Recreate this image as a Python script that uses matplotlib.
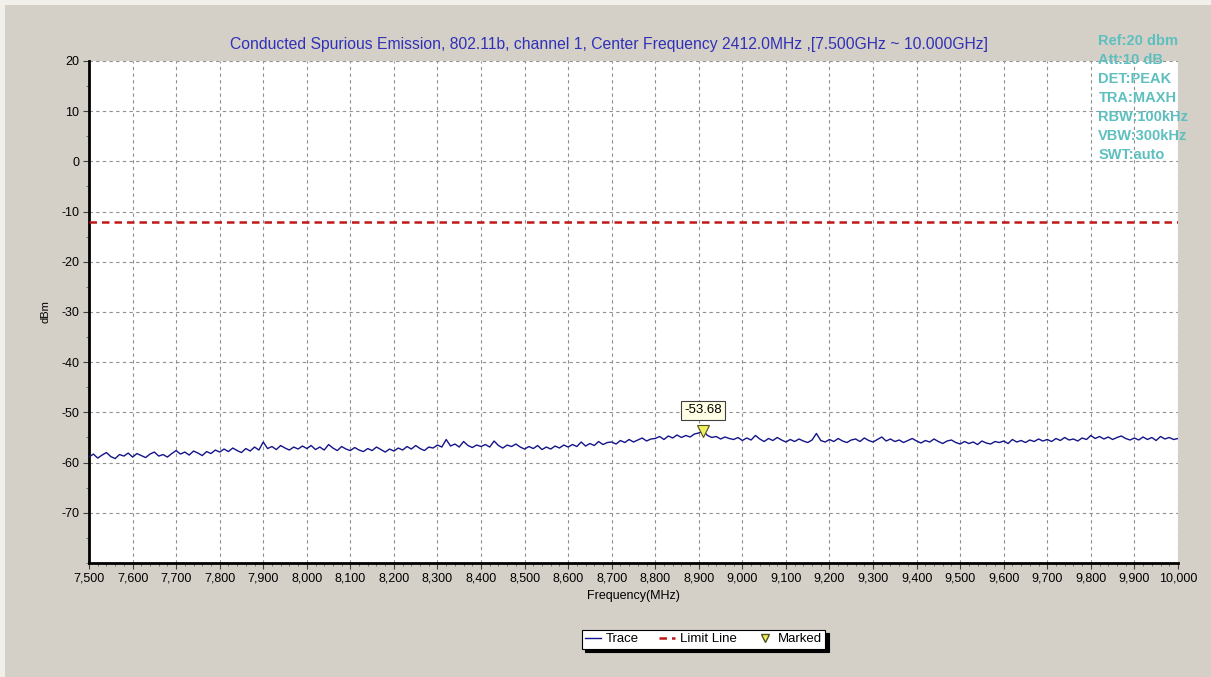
import matplotlib
matplotlib.use('Agg')
import matplotlib.pyplot as plt
import numpy as np
from matplotlib.patches import Rectangle
from matplotlib.lines import Line2D

plt.rcParams['font.family'] = ['Liberation Sans', 'DejaVu Sans']
plt.rcParams['axes.unicode_minus'] = False

# trace, one reading every 10 MHz from 7500 to 10000 MHz
freq_start = 7500
freq_step = 10
trace_dbm = [
    -58.9, -58.3, -59.1, -58.5, -58.0, -58.8, -59.2, -58.4, -58.7, -58.1,
    -58.9, -58.2, -58.6, -59.0, -58.3, -57.9, -58.7, -58.4, -58.9, -58.2,
    -57.6, -58.3, -57.9, -58.5, -57.7, -58.1, -58.6, -57.8, -58.2, -57.5,
    -57.9, -57.3, -57.8, -57.1, -57.6, -58.0, -57.2, -57.7, -56.9, -57.5,
    -55.9, -57.2, -56.8, -57.4, -56.6, -57.1, -57.5, -56.9, -57.3, -56.7,
    -57.2, -56.6, -57.4, -56.9, -57.5, -56.4, -57.1, -57.6, -56.8, -57.3,
    -57.6, -57.0, -57.5, -57.8, -57.2, -57.6, -56.9, -57.4, -57.9, -57.3,
    -57.7, -57.1, -57.5, -56.8, -57.3, -56.6, -57.2, -57.6, -56.9, -57.1,
    -56.5, -56.9, -55.4, -56.7, -56.3, -56.9, -55.8, -56.6, -57.0, -56.5,
    -56.8, -56.4, -56.9, -55.7, -56.6, -57.1, -56.5, -56.8, -56.3, -56.9,
    -57.3, -56.8, -57.2, -56.6, -57.4, -56.9, -57.3, -56.7, -57.1, -56.5,
    -56.9, -56.4, -56.8, -55.9, -56.7, -56.2, -56.6, -55.8, -56.4, -56.0,
    -55.9, -56.3, -55.6, -56.0, -55.4, -55.9, -55.5, -55.1, -55.7, -55.3,
    -55.2, -54.8, -55.4, -54.7, -55.1, -54.5, -55.0, -54.6, -54.9, -54.3,
    -54.1, -53.7, -54.6, -55.0, -54.8, -55.3, -54.9, -55.2, -55.4, -55.0,
    -55.6, -55.1, -55.5, -54.6, -55.3, -55.8, -55.2, -55.6, -55.0, -55.5,
    -55.9, -55.4, -55.8, -55.3, -55.7, -56.0, -55.5, -54.2, -55.6, -55.9,
    -55.4, -55.8, -55.2, -55.7, -56.0, -55.5, -55.3, -55.8, -55.1, -55.6,
    -55.9, -55.4, -54.9, -55.7, -55.3, -55.8, -55.5, -56.0, -55.6, -55.2,
    -55.7, -56.1, -55.6, -55.9, -55.3, -55.8, -56.2, -55.7, -55.5, -56.0,
    -56.3, -55.8, -56.2, -55.9, -56.4, -55.7, -56.1, -56.3, -55.8, -56.0,
    -55.7, -56.2, -55.4, -55.9, -55.6, -56.0, -55.5, -55.8, -55.3, -55.7,
    -55.4, -55.8, -55.2, -55.6, -55.0, -55.5, -55.3, -55.7, -55.1, -55.4,
    -54.6, -55.2, -54.8, -55.3, -54.9, -55.4, -55.0, -54.7, -55.2, -55.5,
    -55.1, -55.5, -54.9, -55.4, -55.0, -55.6, -54.8, -55.3, -55.0, -55.4,
    -55.2,
]
limit_dbm = -12.0
marker_freq = 8910
marker_dbm = -53.68
marker_label = '-53.68'

x_ticks = list(range(7500, 10001, 100))
y_ticks = [20, 10, 0, -10, -20, -30, -40, -50, -60, -70]
title = ('Conducted Spurious Emission, 802.11b, channel 1, '
         'Center Frequency 2412.0MHz ,[7.500GHz ~ 10.000GHz]')
info_lines = ['Ref:20 dbm', 'Att:10 dB', 'DET:PEAK', 'TRA:MAXH',
              'RBW:100kHz', 'VBW:300kHz', 'SWT:auto']

freqs = freq_start + freq_step*np.arange(len(trace_dbm))

bg = '#d4d0c8'
fig = plt.figure(figsize=(12.11, 6.77), dpi=100, facecolor=bg)
# light window bevel at top/left
fig.patches.append(Rectangle((0, 0.992), 1, 0.008, transform=fig.transFigure,
                             facecolor='#f2f0ea', edgecolor='none', zorder=0))
fig.patches.append(Rectangle((0, 0), 0.004, 1, transform=fig.transFigure,
                             facecolor='#f2f0ea', edgecolor='none', zorder=0))

ax = fig.add_axes([0.0735, 0.1684, 0.8992, 0.7415])
ax.set_facecolor('white')
ax.set_xlim(7500, 10000)
ax.set_ylim(-80, 20)

ax.plot(freqs, trace_dbm, color='#14148a', lw=1.0, zorder=3)
ax.axhline(limit_dbm, color='#c01818', lw=1.8, ls=(0, (3, 2)), zorder=3)
ax.plot([marker_freq], [marker_dbm], marker='v', ms=8, mfc='#f0f060',
        mec='#505020', mew=0.8, ls='none', zorder=4)
ax.annotate(marker_label, (marker_freq, -49.6), ha='center', va='center',
            fontsize=9.5, zorder=5,
            bbox=dict(boxstyle='square,pad=0.25', fc='#ffffe6', ec='#404040', lw=0.8))

ax.set_xticks(x_ticks)
ax.set_xticklabels([f'{v:,}' for v in x_ticks])
ax.set_xticks(np.arange(7500, 10001, 20), minor=True)
ax.set_yticks(y_ticks)
ax.set_yticks(np.arange(-80, 21, 5), minor=True)
ax.tick_params(axis='both', which='major', labelsize=9, length=4, width=0.8,
               color='#404040', pad=3)
ax.tick_params(axis='both', which='minor', length=2, width=0.6, color='#606060')
ax.grid(True, which='major', color='#909090', ls=(0, (3, 3)), lw=0.8)

for side in ['top', 'right']:
    ax.spines[side].set_visible(False)
for side in ['left', 'bottom']:
    ax.spines[side].set_linewidth(2)
    ax.spines[side].set_color('black')

ax.set_xlabel('Frequency(MHz)', fontsize=9, labelpad=4)
ax.set_ylabel('dBm', fontsize=8, labelpad=8)

fig.text(0.503, 0.934, title, ha='center', va='center', fontsize=11.3,
         color='#3030b8')

for i, line in enumerate(info_lines):
    fig.text(0.907, 0.940 - i*0.0282, line, ha='left', va='center',
             fontsize=10.5, fontweight='bold', color='#5ebfbf',
             family=['Liberation Sans Narrow', 'Liberation Sans'])

handles = [
    Line2D([], [], color='#14148a', lw=1),
    Line2D([], [], color='#c01818', lw=1.8, ls=(0, (3, 2))),
    Line2D([], [], marker='v', ms=6, mfc='#f0f060', mec='#505020', ls='none'),
]
leg = fig.legend(handles, ['Trace', 'Limit Line', 'Marked'], loc='center',
                 bbox_to_anchor=(0.581, 0.056), ncol=3, fontsize=9.5,
                 frameon=True, fancybox=False,
                 shadow={'color': 'black', 'alpha': 1.0, 'ox': 2.5, 'oy': -2.5},
                 handlelength=1.2, handletextpad=0.4, columnspacing=1.5,
                 borderpad=0.25)
leg.get_frame().set_edgecolor('black')
leg.get_frame().set_linewidth(0.8)

fig.savefig('out.png', dpi=100, facecolor=bg)
